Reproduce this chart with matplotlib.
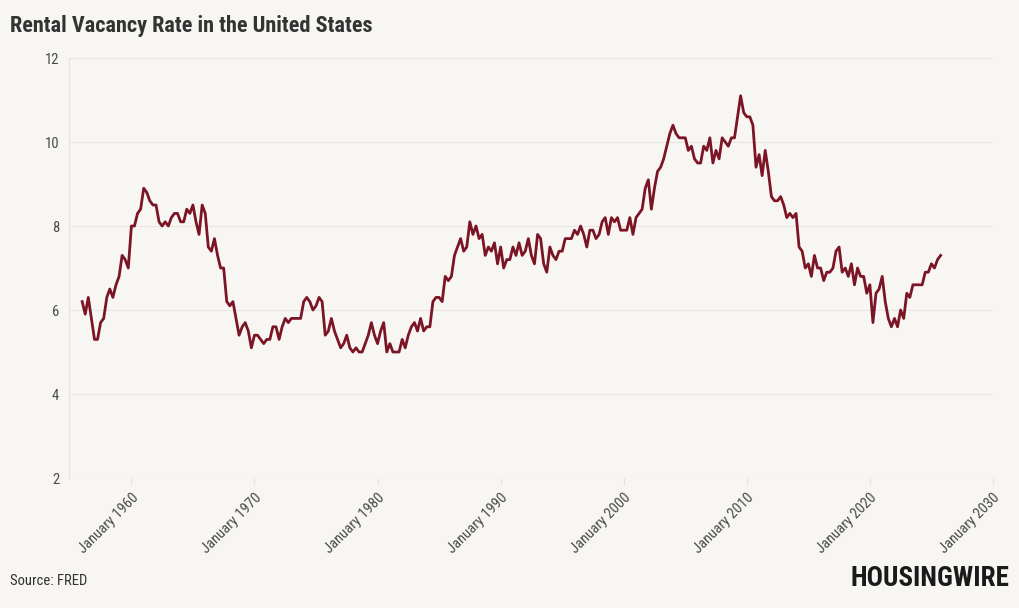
import numpy as np
import pandas as pd
import matplotlib
matplotlib.use("Agg")
import matplotlib.pyplot as plt

# quarterly rental vacancy rate (%), 1956 Q1 onward
rate = [
    6.2, 5.9, 6.3, 5.8, 5.3, 5.3, 5.7, 5.8, 6.3, 6.5, 6.3, 6.6,   # 1956-58
    6.8, 7.3, 7.2, 7.0, 8.0, 8.0, 8.3, 8.4, 8.9, 8.8, 8.6, 8.5,   # 1959-61
    8.5, 8.1, 8.0, 8.1, 8.0, 8.2, 8.3, 8.3, 8.1, 8.1, 8.4, 8.3,   # 1962-64
    8.5, 8.1, 7.8, 8.5, 8.3, 7.5, 7.4, 7.7, 7.3, 7.0, 7.0, 6.2,   # 1965-67
    6.1, 6.2, 5.8, 5.4, 5.6, 5.7, 5.5, 5.1, 5.4, 5.4, 5.3, 5.2,   # 1968-70
    5.3, 5.3, 5.6, 5.6, 5.3, 5.6, 5.8, 5.7, 5.8, 5.8, 5.8, 5.8,   # 1971-73
    6.2, 6.3, 6.2, 6.0, 6.1, 6.3, 6.2, 5.4, 5.5, 5.8, 5.5, 5.3,   # 1974-76
    5.1, 5.2, 5.4, 5.1, 5.0, 5.1, 5.0, 5.0, 5.2, 5.4, 5.7, 5.4,   # 1977-79
    5.2, 5.5, 5.7, 5.0, 5.2, 5.0, 5.0, 5.0, 5.3, 5.1, 5.4, 5.6,   # 1980-82
    5.7, 5.5, 5.8, 5.5, 5.6, 5.6, 6.2, 6.3, 6.3, 6.2, 6.8, 6.7,   # 1983-85
    6.8, 7.3, 7.5, 7.7, 7.4, 7.5, 8.1, 7.8, 8.0, 7.7, 7.8, 7.3,   # 1986-88
    7.5, 7.4, 7.6, 7.1, 7.5, 7.0, 7.2, 7.2, 7.5, 7.3, 7.6, 7.3,   # 1989-91
    7.4, 7.7, 7.3, 7.1, 7.8, 7.7, 7.1, 6.9, 7.5, 7.3, 7.2, 7.4,   # 1992-94
    7.4, 7.7, 7.7, 7.7, 7.9, 7.8, 8.0, 7.8, 7.5, 7.9, 7.9, 7.7,   # 1995-97
    7.8, 8.1, 8.2, 7.8, 8.2, 8.1, 8.2, 7.9, 7.9, 7.9, 8.2, 7.8,   # 1998-2000
    8.2, 8.3, 8.4, 8.9, 9.1, 8.4, 8.9, 9.3, 9.4, 9.6, 9.9, 10.2,  # 2001-03
    10.4, 10.2, 10.1, 10.1, 10.1, 9.8, 9.9, 9.6, 9.5, 9.5, 9.9, 9.8,  # 2004-06
    10.1, 9.5, 9.8, 9.6, 10.1, 10.0, 9.9, 10.1, 10.1, 10.6, 11.1, 10.7,  # 2007-09
    10.6, 10.6, 10.4, 9.4, 9.7, 9.2, 9.8, 9.3, 8.7, 8.6, 8.6, 8.7,  # 2010-12
    8.5, 8.2, 8.3, 8.2, 8.3, 7.5, 7.4, 7.0, 7.1, 6.8, 7.3, 7.0,   # 2013-15
    7.0, 6.7, 6.9, 6.9, 7.0, 7.4, 7.5, 6.9, 7.0, 6.8, 7.1, 6.6,   # 2016-18
    7.0, 6.8, 6.8, 6.4, 6.6, 5.7, 6.4, 6.5, 6.8, 6.2, 5.8, 5.6,   # 2019-21
    5.8, 5.6, 6.0, 5.8, 6.4, 6.3, 6.6, 6.6, 6.6, 6.6, 6.9, 6.9,   # 2022-24
    7.1, 7.0, 7.2, 7.3,                                           # 2025
]
dates = pd.date_range("1956-01-01", periods=len(rate), freq="QS")

y_ticks = [2, 4, 6, 8, 10, 12]
x_years = [1960, 1970, 1980, 1990, 2000, 2010, 2020, 2030]

bg = "#f8f6f2"
line_col = "#7b1526"
txt = "#4a4a4a"
cond = ["Roboto Condensed", "Liberation Sans Narrow", "DejaVu Sans"]

fig = plt.figure(figsize=(10.2, 6.08), dpi=100, facecolor=bg)
ax = fig.add_axes([0.0676, 0.2138, 0.9059, 0.6908], facecolor=bg)

ax.plot(dates, rate, color=line_col, lw=2.0, solid_joinstyle="round")

ax.set_ylim(2, 12)
ax.set_yticks(y_ticks)
ax.set_xlim(pd.Timestamp("1954-12-05"), pd.Timestamp("2030-01-01"))
ax.set_xticks([pd.Timestamp(f"{y}-01-01") for y in x_years])
ax.set_xticklabels([f"January {y}" for y in x_years], rotation=45,
                   ha="right", va="top", rotation_mode="anchor")

ax.grid(axis="y", color="#e9e6e1", lw=0.8)
ax.set_axisbelow(True)
for s in ["top", "right", "bottom"]:
    ax.spines[s].set_visible(False)
ax.spines["left"].set_color("#e6e3de")
ax.spines["left"].set_linewidth(0.8)
ax.tick_params(axis="y", length=0, pad=7, labelsize=10.5, labelcolor=txt)
ax.tick_params(axis="x", length=5, color="#e6e3de", pad=4,
               labelsize=10.5, labelcolor=txt)
for lab in ax.get_xticklabels() + ax.get_yticklabels():
    lab.set_family(cond)

fig.text(0.010, 0.958, "Rental Vacancy Rate in the United States",
         fontsize=16, fontweight="bold", color="#333333", family=cond,
         va="center", ha="left")
fig.text(0.010, 0.044, "Source: FRED", fontsize=10.5, color="#333333",
         family=cond, va="center", ha="left")
fig.text(0.990, 0.049, "HOUSINGWIRE", fontsize=19.5, fontweight="heavy",
         color="#1a1a1a", family=cond, va="center", ha="right")

fig.savefig("out.png", dpi=100, facecolor=bg)
